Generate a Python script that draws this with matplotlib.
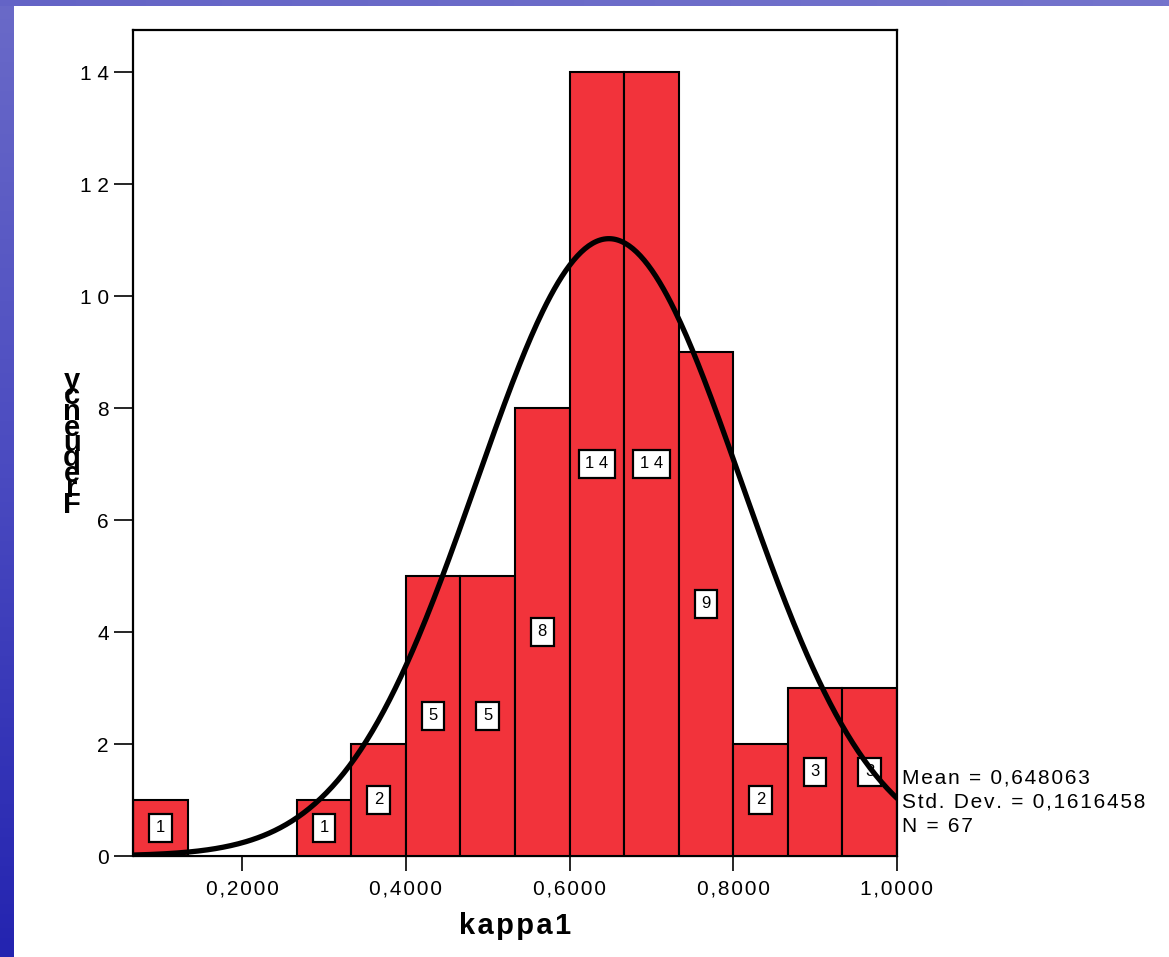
import numpy as np
import matplotlib
matplotlib.use('Agg')
import matplotlib.pyplot as plt
from matplotlib.colors import LinearSegmentedColormap

plt.rcParams['font.family'] = ['Liberation Sans', 'DejaVu Sans']

# histogram of kappa1 (14 bins, width 1/15, from 1/15 to 1)
bin_edges = np.linspace(1 / 15, 1.0, 15)
counts = [1, 0, 0, 1, 2, 5, 5, 8, 14, 14, 9, 2, 3, 3]
mean_val = 0.648063
std_val = 0.1616458
n_obs = 67

x_ticks = [0.2, 0.4, 0.6, 0.8, 1.0]
x_ticklabels = ['0,2000', '0,4000', '0,6000', '0,8000', '1,0000']
y_ticks = [0, 2, 4, 6, 8, 10, 12, 14]

bar_red = '#f2333b'
HAIR = '\u200a'


def spaced(s):
    # SPSS output uses a little extra letter spacing
    return HAIR.join(s)


fig = plt.figure(figsize=(11.69, 9.57), dpi=100)
fig.patch.set_facecolor('white')

# blue slide background strips (left and top)
cmap = LinearSegmentedColormap.from_list('slide', ['#6a6ac8', '#4a4ac0', '#2424b0'])
strip = fig.add_axes([0, 0, 14 / 1169, 1])
strip.imshow(np.linspace(0, 1, 200).reshape(-1, 1), aspect='auto', cmap=cmap)
strip.axis('off')
top = fig.add_axes([0, 1 - 6 / 957, 1, 6 / 957])
top.imshow(np.linspace(0, 1, 200).reshape(1, -1), aspect='auto',
           cmap=LinearSegmentedColormap.from_list('top', ['#6464c6', '#7474cc']))
top.axis('off')

ax = fig.add_axes([133 / 1169, 1 - 856 / 957, 764 / 1169, 826 / 957])
width = bin_edges[1] - bin_edges[0]
centers = bin_edges[:-1] + width / 2
ax.bar(centers, counts, width=width, color=bar_red, edgecolor='black',
       linewidth=1.5, zorder=2)

for c, h in zip(centers, counts):
    if h == 0:
        continue
    ax.text(c, h / 2, ' '.join(str(h)), ha='center', va='center', fontsize=12,
            zorder=3,
            bbox=dict(boxstyle='square,pad=0.4', facecolor='white',
                      edgecolor='black', linewidth=1.6))

# fitted normal curve
xs = np.linspace(bin_edges[0], 1.0, 400)
ys = n_obs * width / (std_val * np.sqrt(2 * np.pi)) * np.exp(-0.5 * ((xs - mean_val) / std_val) ** 2)
ax.plot(xs, ys, color='black', lw=3.8, zorder=4, solid_capstyle='round')

ax.set_xlim(bin_edges[0], 1.0)
ax.set_ylim(0, 14.75)
ax.set_xticks(x_ticks)
ax.set_xticklabels([spaced(t) for t in x_ticklabels], fontsize=15)
ax.set_yticks(y_ticks)
ax.set_yticklabels([' '.join(str(v)) for v in y_ticks], fontsize=15)
ax.tick_params(axis='y', direction='out', length=13.5, width=1.2, pad=4)
ax.tick_params(axis='x', direction='out', length=11, width=1.2, pad=6)

for side in ['left', 'top', 'right']:
    ax.spines[side].set_linewidth(1.6)
ax.spines['bottom'].set_linewidth(0.9)

ax.set_xlabel(spaced('kappa1'), fontsize=21, fontweight='bold', labelpad=10)

# y label drawn as stacked upright letters (bottom to top)
label = 'Frequency'
for i, ch in enumerate(label):
    fig.text(72 / 1169, 1 - (513 - i * 15.5) / 957, ch, ha='center',
             va='baseline', fontsize=21, fontweight='bold')

stats = ['Mean = 0,648063', 'Std. Dev. = 0,1616458', 'N = {}'.format(n_obs)]
for i, s in enumerate(stats):
    fig.text(902 / 1169, 1 - (778 + i * 24) / 957, spaced(s), ha='left',
             va='center', fontsize=15)

fig.savefig('out.png', dpi=100)
